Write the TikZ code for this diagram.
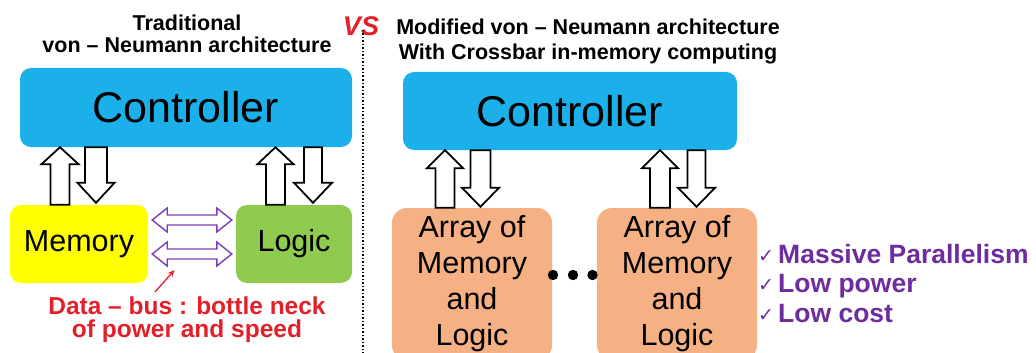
\documentclass[tikz,border=0pt]{standalone}
\usepackage{fontspec}
\setmainfont{Liberation Sans}
\newfontfamily\symfont{DejaVu Sans}
\usetikzlibrary{calc,arrows.meta}

\definecolor{ctrlblue}{HTML}{1CB0EA}
\definecolor{memyellow}{HTML}{FFFF00}
\definecolor{logicgreen}{HTML}{8FCB4E}
\definecolor{arrayorange}{HTML}{F5B184}
\definecolor{busviolet}{HTML}{7A3CB8}
\definecolor{textpurple}{HTML}{6E2D9E}
\definecolor{alertred}{HTML}{E3202A}

% Hollow block arrow from #1 to #2: shaft half width #3, head half width #4, head length #5, style #6
\newcommand\blockarrow[6]{%
  \path[#6] let \p1=(#1), \p2=(#2),
      \n1={atan2(\y2-\y1,\x2-\x1)}, \n2={veclen(\x2-\x1,\y2-\y1)} in
    [shift={(\p1)}, rotate=\n1]
    (0pt,-#3pt) -- ({\n2-#5pt},-#3pt) -- ({\n2-#5pt},-#4pt) -- (\n2,0pt)
    -- ({\n2-#5pt},#4pt) -- ({\n2-#5pt},#3pt) -- (0pt,#3pt) -- cycle;}

% Hollow double-headed block arrow between #1 and #2
\newcommand\dblblockarrow[6]{%
  \path[#6] let \p1=(#1), \p2=(#2),
      \n1={atan2(\y2-\y1,\x2-\x1)}, \n2={veclen(\x2-\x1,\y2-\y1)} in
    [shift={(\p1)}, rotate=\n1]
    (0pt,0pt) -- (#5pt,-#4pt) -- (#5pt,-#3pt) -- ({\n2-#5pt},-#3pt) -- ({\n2-#5pt},-#4pt)
    -- (\n2,0pt) -- ({\n2-#5pt},#4pt) -- ({\n2-#5pt},#3pt) -- (#5pt,#3pt) -- (#5pt,#4pt) -- cycle;}

\begin{document}
\begin{tikzpicture}[x=1pt,y=-1pt,
  box/.style={rounded corners=11pt, inner sep=0pt, align=center,
    font=\fontsize{30.5}{36}\selectfont},
  ctrlbox/.style={box, fill=ctrlblue, font=\fontsize{43}{43}\selectfont},
  holl/.style={draw=black, fill=white, line width=1.8pt, line join=miter},
  bus/.style={draw=busviolet, fill=white, line width=1.4pt, line join=miter},
  title/.style={font=\bfseries\fontsize{21.5}{22}\selectfont, align=center},
  perk/.style={font=\bfseries\fontsize{26.5}{26.5}\selectfont, text=textpurple,
    anchor=base west, inner sep=0pt},
  chk/.style={font=\symfont\fontsize{19}{19}\selectfont, text=textpurple,
    anchor=base west, inner sep=0pt},
]
\useasboundingbox (0,0) rectangle (1036,353);
\fill[white] (0,0) rectangle (1036,353);
\clip (0,0) rectangle (1036,353);

% ---------- headings ----------
\node[title] (titleL) at (187,34) {Traditional\\von -- Neumann architecture};
\node[title, font=\bfseries\fontsize{21.5}{25}\selectfont] (titleR) at (588,41.5)
  {Modified von -- Neumann architecture\\With Crossbar in-memory computing};
\node[font=\bfseries\itshape\fontsize{27}{27}\selectfont, text=alertred, inner sep=0pt]
  (vs) at (361,26) {VS};
\draw[line width=1.5pt, dotted] (363,30) coordinate (sepTop) -- (363,353) coordinate (sepBot);

% ---------- traditional architecture ----------
\node[ctrlbox, minimum width=332pt, minimum height=79pt] (ctrlL) at (186,107.5) {Controller};
\node[box, fill=memyellow, minimum width=138pt, minimum height=78pt] (mem) at (79,244) {Memory};
\node[box, fill=logicgreen, minimum width=116pt, minimum height=78pt] (logic) at (294,244) {Logic};

\coordinate (a1) at (60,0);
\coordinate (a2) at (96,0);
\coordinate (a3) at (275.5,0);
\coordinate (a4) at (313,0);
\blockarrow{mem.north -| a1}{ctrlL.south -| a1}{9.5}{18.5}{17}{holl}
\blockarrow{$(ctrlL.south -| a2)$}{$(mem.north -| a2)+(0,-2)$}{11}{18.5}{20}{holl}
\blockarrow{logic.north -| a3}{ctrlL.south -| a3}{9.5}{18}{17}{holl}
\blockarrow{$(ctrlL.south -| a4)$}{$(logic.north -| a4)+(0,-2)$}{9}{19}{20}{holl}

% data bus
\coordinate (b1) at (0,220);
\coordinate (b2) at (0,254);
\dblblockarrow{$(mem.east |- b1)+(4,0)$}{$(logic.west |- b1)+(-4,0)$}{5}{12}{15}{bus}
\dblblockarrow{$(mem.east |- b2)+(4,0)$}{$(logic.west |- b2)+(-4,0)$}{5}{12}{15}{bus}

\node[font=\bfseries\fontsize{24.5}{23}\selectfont, text=alertred, align=center, inner sep=0pt]
  (busnote) at (187,320) {Data -- bus : bottle neck\\of power and speed};
\coordinate (noteTail) at (155,292);
\draw[alertred, line width=1.3pt, -{Stealth[length=7pt,width=6pt]}]
  (noteTail) -- ($(mem.east |- b2)!0.3!(logic.west |- b2)+(0,16)$);

% ---------- modified architecture ----------
\node[ctrlbox, minimum width=334pt, minimum height=78pt] (ctrlR) at (570,111) {Controller};
\node[box, rounded corners=15pt, fill=arrayorange, minimum width=160pt, minimum height=152pt]
  (arr1) at (472,284) {Array of\\Memory\\and\\Logic};
\node[box, rounded corners=15pt, fill=arrayorange, minimum width=160pt, minimum height=152pt]
  (arr2) at (677,284) {Array of\\Memory\\and\\Logic};

\coordinate (c1) at (445,0);
\coordinate (c2) at (480.5,0);
\coordinate (c3) at (660,0);
\coordinate (c4) at (696.5,0);
\blockarrow{arr1.north -| c1}{ctrlR.south -| c1}{9.5}{18}{18}{holl}
\blockarrow{$(ctrlR.south -| c2)$}{$(arr1.north -| c2)+(0,-1)$}{10}{18.5}{19}{holl}
\blockarrow{arr2.north -| c3}{ctrlR.south -| c3}{10}{18}{18}{holl}
\blockarrow{$(ctrlR.south -| c4)$}{$(arr2.north -| c4)+(0,-1)$}{9}{18.5}{19}{holl}

% ellipsis between the arrays
\fill (553,275) circle (5.2pt) coordinate (d1);
\fill (573,275) circle (5.2pt) coordinate (d2);
\fill (592.5,275) circle (5.2pt) coordinate (d3);

% benefits
\node[chk] (k1) at (758,262) {✓};
\node[chk] (k2) at (758,291.5) {✓};
\node[chk] (k3) at (758,321) {✓};
\node[perk] (p1) at (778,263) {Massive Parallelism};
\node[perk] (p2) at (778,292.5) {Low power};
\node[perk] (p3) at (778,322) {Low cost};
\end{tikzpicture}
\end{document}
